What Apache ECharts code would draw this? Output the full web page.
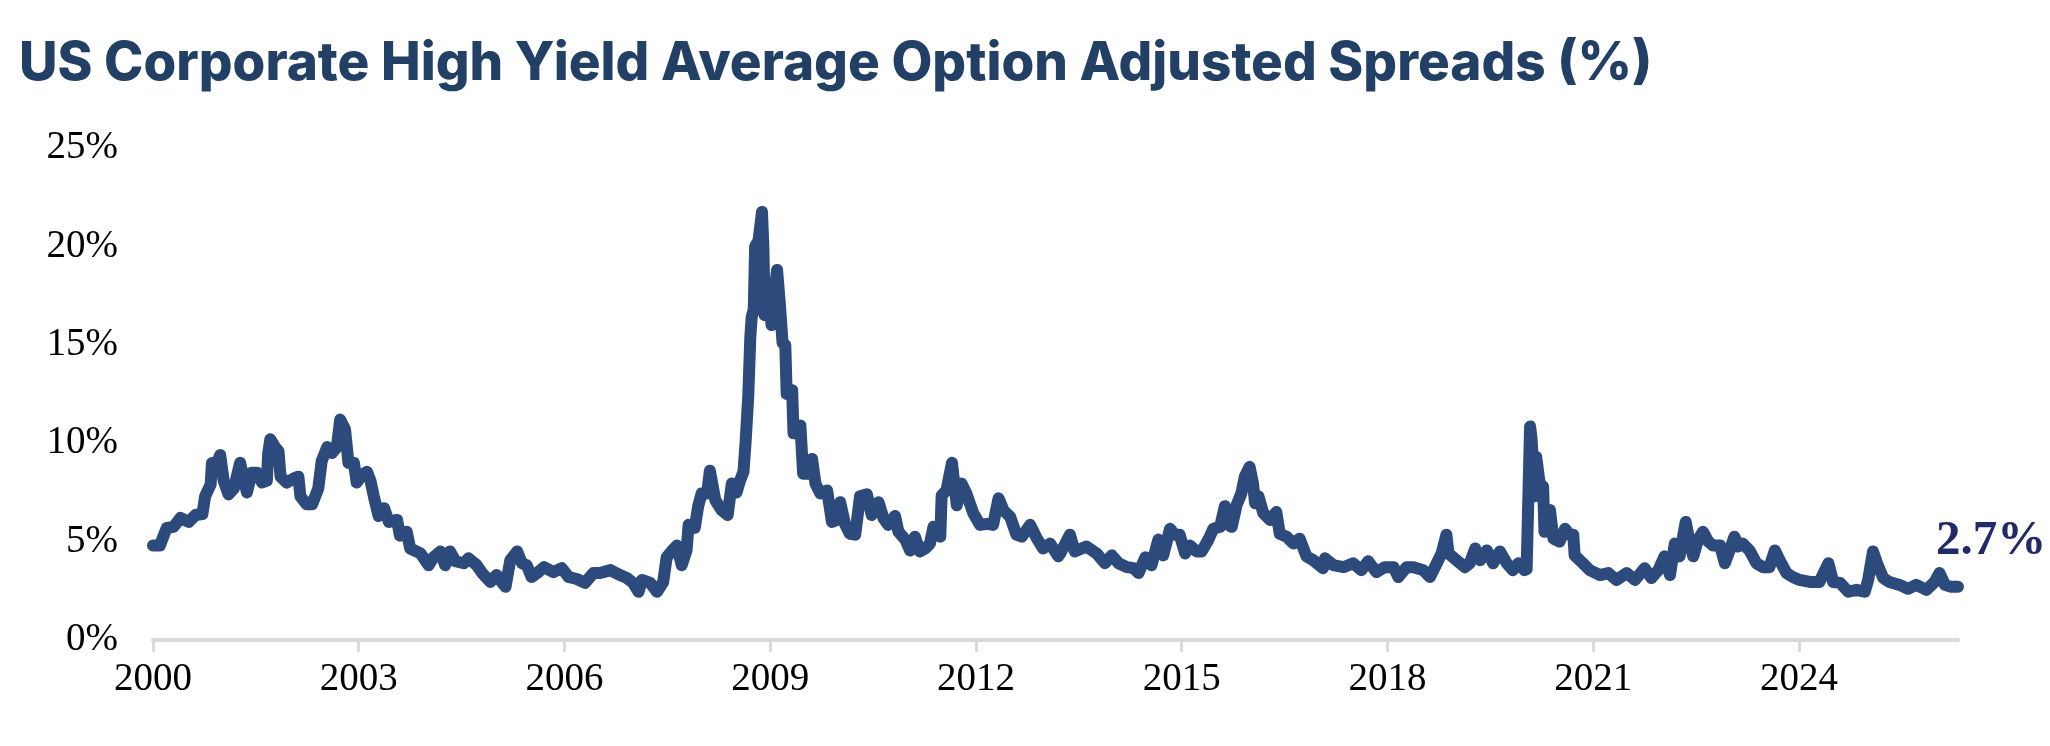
<!DOCTYPE html>
<html>
<head>
<meta charset="utf-8">
<title>US Corporate High Yield Average Option Adjusted Spreads</title>
<script src="https://cdn.jsdelivr.net/npm/echarts@6.0.0/dist/echarts.min.js"></script>
<style>
  html, body { margin: 0; padding: 0; background: #fff; }
  #chart { width: 2050px; height: 746px; }
</style>
</head>
<body>
<div id="chart"></div>
<script>
// position of each reading on the time axis (decimal years)
const yearPos = [
  2000.00, 2000.10, 2000.20, 2000.30, 2000.40, 2000.52, 2000.62, 2000.72, 2000.76, 2000.84,
  2000.86, 2000.92, 2000.98, 2001.03, 2001.10, 2001.18, 2001.27, 2001.37, 2001.44, 2001.52,
  2001.59, 2001.66, 2001.68, 2001.71, 2001.78, 2001.83, 2001.86, 2001.95, 2002.05, 2002.12,
  2002.15, 2002.24, 2002.32, 2002.41, 2002.46, 2002.54, 2002.61, 2002.68, 2002.73, 2002.80,
  2002.85, 2002.93, 2002.97, 2003.05, 2003.12, 2003.17, 2003.22, 2003.29, 2003.37, 2003.44,
  2003.56, 2003.60, 2003.70, 2003.75, 2003.90, 2004.02, 2004.09, 2004.19, 2004.26, 2004.33,
  2004.41, 2004.53, 2004.60, 2004.72, 2004.80, 2004.92, 2005.01, 2005.06, 2005.14, 2005.21,
  2005.31, 2005.38, 2005.45, 2005.52, 2005.60, 2005.70, 2005.84, 2005.96, 2006.06, 2006.18,
  2006.30, 2006.42, 2006.52, 2006.67, 2006.81, 2006.91, 2007.00, 2007.08, 2007.13, 2007.25,
  2007.35, 2007.44, 2007.49, 2007.56, 2007.64, 2007.71, 2007.78, 2007.81, 2007.90, 2007.95,
  2008.00, 2008.08, 2008.12, 2008.20, 2008.29, 2008.38, 2008.44, 2008.51, 2008.56, 2008.61,
  2008.64, 2008.68, 2008.71, 2008.73, 2008.76, 2008.78, 2008.83, 2008.88, 2008.90, 2008.92,
  2008.97, 2009.02, 2009.05, 2009.10, 2009.14, 2009.18, 2009.22, 2009.24, 2009.32, 2009.34,
  2009.39, 2009.44, 2009.48, 2009.56, 2009.61, 2009.66, 2009.73, 2009.83, 2009.90, 2009.97,
  2010.02, 2010.09, 2010.16, 2010.24, 2010.31, 2010.41, 2010.48, 2010.58, 2010.65, 2010.72,
  2010.82, 2010.87, 2010.97, 2011.04, 2011.11, 2011.18, 2011.26, 2011.33, 2011.38, 2011.48,
  2011.50, 2011.57, 2011.65, 2011.72, 2011.79, 2011.86, 2011.96, 2012.06, 2012.16, 2012.25,
  2012.33, 2012.40, 2012.50, 2012.59, 2012.67, 2012.79, 2012.89, 2012.98, 2013.08, 2013.20,
  2013.23, 2013.37, 2013.44, 2013.61, 2013.76, 2013.88, 2013.98, 2014.08, 2014.20, 2014.30,
  2014.37, 2014.47, 2014.56, 2014.66, 2014.73, 2014.83, 2014.90, 2014.97, 2015.05, 2015.12,
  2015.22, 2015.29, 2015.39, 2015.46, 2015.56, 2015.63, 2015.66, 2015.73, 2015.80, 2015.87,
  2015.92, 2015.99, 2016.04, 2016.07, 2016.12, 2016.19, 2016.29, 2016.38, 2016.43, 2016.53,
  2016.63, 2016.72, 2016.82, 2016.92, 2017.06, 2017.09, 2017.21, 2017.36, 2017.50, 2017.62,
  2017.72, 2017.84, 2017.96, 2018.09, 2018.16, 2018.28, 2018.38, 2018.52, 2018.62, 2018.72,
  2018.79, 2018.86, 2018.89, 2019.01, 2019.13, 2019.20, 2019.28, 2019.35, 2019.45, 2019.54,
  2019.64, 2019.74, 2019.83, 2019.91, 2020.00, 2020.03, 2020.08, 2020.10, 2020.15, 2020.17,
  2020.22, 2020.27, 2020.29, 2020.37, 2020.42, 2020.51, 2020.59, 2020.66, 2020.71, 2020.73,
  2020.85, 2020.95, 2021.10, 2021.22, 2021.34, 2021.49, 2021.61, 2021.75, 2021.85, 2021.95,
  2022.04, 2022.12, 2022.19, 2022.26, 2022.31, 2022.35, 2022.41, 2022.46, 2022.53, 2022.60,
  2022.68, 2022.75, 2022.85, 2022.92, 2022.99, 2023.06, 2023.11, 2023.18, 2023.28, 2023.38,
  2023.48, 2023.57, 2023.65, 2023.72, 2023.82, 2023.91, 2024.01, 2024.16, 2024.30, 2024.43,
  2024.50, 2024.60, 2024.72, 2024.84, 2024.96, 2025.01, 2025.08, 2025.15, 2025.23, 2025.32,
  2025.47, 2025.59, 2025.71, 2025.86, 2025.98, 2026.05, 2026.13, 2026.22, 2026.32
];

// option adjusted spread, %
const oas = [
  4.8, 4.8, 5.7, 5.75, 6.2, 6.0, 6.35, 6.4, 7.3, 7.9,
  9.0, 8.9, 9.4, 8.1, 7.4, 7.7, 9.0, 7.5, 8.5, 8.5,
  8.0, 8.1, 9.5, 10.2, 9.8, 9.6, 8.3, 8.0, 8.2, 8.3,
  7.3, 6.9, 6.9, 7.7, 9.1, 9.8, 9.5, 9.8, 11.2, 10.7,
  9.0, 9.0, 8.0, 8.4, 8.55, 8.1, 7.3, 6.3, 6.7, 6.0,
  6.1, 5.3, 5.5, 4.65, 4.4, 3.8, 4.2, 4.5, 3.8, 4.5,
  4.0, 3.9, 4.15, 3.8, 3.4, 2.95, 3.3, 3.05, 2.7, 4.05,
  4.5, 3.9, 3.8, 3.2, 3.4, 3.7, 3.45, 3.65, 3.2, 3.1,
  2.9, 3.4, 3.4, 3.55, 3.3, 3.15, 2.9, 2.45, 3.05, 2.9,
  2.45, 2.95, 4.2, 4.5, 4.8, 3.8, 4.55, 5.85, 5.7, 6.8,
  7.45, 7.45, 8.6, 7.1, 6.6, 6.35, 7.95, 7.5, 8.1, 8.55,
  10.0, 12.4, 15.4, 16.4, 16.8, 20.0, 20.3, 21.75, 20.0, 16.5,
  17.8, 16.0, 17.4, 18.8, 17.1, 15.1, 15.0, 12.5, 12.7, 10.5,
  10.5, 10.9, 8.45, 8.45, 9.2, 7.95, 7.45, 7.6, 6.0, 6.1,
  7.0, 5.9, 5.4, 5.35, 7.3, 7.4, 6.35, 7.0, 6.2, 5.85,
  6.3, 5.5, 5.1, 4.55, 5.25, 4.5, 4.65, 4.9, 5.75, 5.25,
  7.35, 7.6, 9.0, 6.85, 7.95, 7.45, 6.45, 5.85, 5.9, 5.85,
  7.2, 6.6, 6.25, 5.35, 5.25, 5.85, 5.15, 4.65, 4.9, 4.25,
  4.4, 5.35, 4.5, 4.75, 4.4, 3.9, 4.3, 3.9, 3.7, 3.65,
  3.4, 4.2, 3.8, 5.1, 4.3, 5.65, 5.35, 5.35, 4.4, 4.8,
  4.5, 4.5, 5.1, 5.65, 5.75, 6.8, 5.9, 5.75, 6.85, 7.45,
  8.3, 8.8, 7.95, 6.95, 7.3, 6.45, 6.1, 6.5, 5.4, 5.25,
  4.9, 5.15, 4.25, 4.05, 3.65, 4.15, 3.8, 3.7, 3.9, 3.55,
  4.0, 3.45, 3.7, 3.7, 3.2, 3.7, 3.7, 3.55, 3.2, 3.9,
  4.4, 5.35, 4.4, 4.05, 3.7, 3.9, 4.65, 4.05, 4.55, 3.9,
  4.5, 3.9, 3.55, 3.9, 3.55, 3.6, 10.85, 10.3, 7.3, 9.3,
  7.95, 7.8, 5.5, 6.6, 5.15, 5.0, 5.65, 5.35, 5.35, 4.3,
  3.9, 3.55, 3.3, 3.4, 3.05, 3.4, 3.05, 3.65, 3.15, 3.55,
  4.25, 3.3, 4.9, 4.25, 5.25, 6.0, 4.9, 4.25, 5.1, 5.5,
  5.0, 4.8, 4.8, 3.9, 4.55, 5.25, 4.75, 4.9, 4.55, 3.9,
  3.7, 3.7, 4.55, 4.05, 3.4, 3.2, 3.05, 2.95, 2.95, 3.9,
  2.95, 2.9, 2.45, 2.55, 2.45, 3.05, 4.5, 3.8, 3.15, 2.95,
  2.8, 2.6, 2.8, 2.55, 2.95, 3.4, 2.8, 2.7, 2.7
];

// year labels on the x axis
const tickYears = [2000, 2003, 2006, 2009, 2012, 2015, 2018, 2021, 2024];

const serif = "'Times New Roman', 'Liberation Serif', serif";
const navy = '#2c4a7b';

let myChart = echarts.init(document.getElementById('chart'));
let seriesData = yearPos.map((t, i) => [t, oas[i]]);

let option = {
    animation: false,
    title: {
        text: 'US Corporate High Yield Average Option Adjusted Spreads (%)',
        left: 14,
        top: 33,
        textStyle: {
            fontFamily: 'Inter',
            fontWeight: 800,
            fontSize: 53,
            color: '#223f66'
        }
    },
    grid: {
        left: 153,
        right: 92,
        top: 148,
        bottom: 106
    },
    xAxis: {
        type: 'value',
        min: 2000,
        max: yearPos[yearPos.length - 1],
        splitLine: { show: false },
        axisLine: {
            show: true,
            lineStyle: { color: '#d9d9d9', width: 4 }
        },
        axisTick: {
            show: true,
            customValues: tickYears,
            length: 12,
            lineStyle: { color: '#d9d9d9', width: 3 }
        },
        axisLabel: {
            customValues: tickYears,
            formatter: (v) => String(v),
            margin: 20,
            fontFamily: serif,
            fontSize: 39,
            color: '#000'
        }
    },
    yAxis: {
        type: 'value',
        min: 0,
        max: 25,
        interval: 5,
        splitLine: { show: false },
        axisLine: { show: false },
        axisTick: { show: false },
        axisLabel: {
            formatter: '{value}%',
            margin: 35,
            fontFamily: serif,
            fontSize: 39,
            color: '#000'
        }
    },
    series: [
        {
            type: 'line',
            data: seriesData,
            symbol: 'none',
            lineStyle: {
                color: navy,
                width: 12,
                cap: 'round',
                join: 'round'
            },
            endLabel: {
                show: true,
                formatter: (p) => p.value[1] + '%',
                offset: [-30, -46],
                fontFamily: serif,
                fontWeight: 'bold',
                fontSize: 49,
                color: '#1f2a66'
            }
        }
    ]
};
myChart.setOption(option);
</script>
</body>
</html>
